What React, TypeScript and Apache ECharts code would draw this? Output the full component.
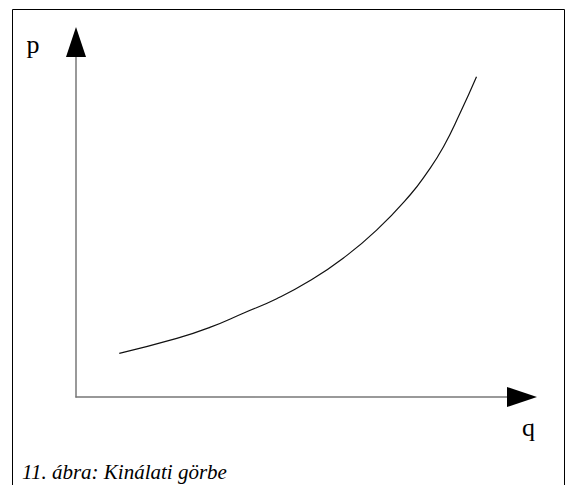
import React, { useEffect, useRef } from "react";
import * as echarts from "echarts";

// Supply curve (q, p), arbitrary units 0..100
const qValues = [9.7, 22.6, 30.0, 37.5, 45.0, 52.5, 59.9, 67.4, 74.9, 78.6, 82.4, 86.1, 89.8];
const pValues = [12.3, 16.5, 19.6, 23.6, 27.7, 32.8, 39.1, 47.0, 56.9, 63.0, 70.5, 79.9, 90.2];
const xName = "q";
const yName = "p";
const caption = "11. ábra: Kinálati görbe";

export default function App() {
  const ref = useRef<HTMLDivElement>(null);
  useEffect(() => {
    if (!ref.current) return;
    const chart = echarts.init(ref.current, undefined, { renderer: "svg" });
    const serif = "Liberation Serif";
    const hiddenParts = {
      axisTick: { show: false },
      axisLabel: { show: false },
      splitLine: { show: false },
    };
    chart.setOption({
      animation: false,
      backgroundColor: "#fff",
      grid: { left: 76, top: 42, right: 46, bottom: 88 },
      xAxis: [
        {
          type: "value", min: 0, max: 100, position: "bottom",
          axisLine: { show: true, lineStyle: { color: "#777", width: 1.5 } },
          ...hiddenParts,
        },
        {
          type: "value", min: 0, max: 100, position: "bottom", offset: 0,
          axisLine: {
            show: true, symbol: ["none", "triangle"], symbolSize: [20, 30],
            lineStyle: { color: "#000", width: 0 },
          },
          ...hiddenParts,
        },
      ],
      yAxis: [
        {
          type: "value", min: 0, max: 100, position: "left",
          axisLine: { show: true, lineStyle: { color: "#777", width: 1.5 } },
          ...hiddenParts,
        },
        {
          type: "value", min: 0, max: 100, position: "left", offset: 0,
          axisLine: {
            show: true, symbol: ["none", "triangle"], symbolSize: [20, 30],
            lineStyle: { color: "#000", width: 0 },
          },
          ...hiddenParts,
        },
      ],
      series: [
        {
          type: "line",
          xAxisIndex: 0,
          yAxisIndex: 0,
          data: qValues.map((q, i) => [q, pValues[i]]),
          smooth: 0.5,
          showSymbol: false,
          lineStyle: { color: "#111", width: 1.2 },
        },
      ],
      graphic: [
        {
          type: "rect",
          shape: { x: 12.5, y: 9.5, width: 552, height: 500 },
          style: { fill: "none", stroke: "#000", lineWidth: 1 },
          silent: true,
        },
        {
          type: "text", x: 26.5, y: 44,
          style: { text: yName, fontFamily: serif, fontSize: 26, fill: "#000", verticalAlign: "middle" },
        },
        {
          type: "text", x: 522, y: 427,
          style: { text: xName, fontFamily: serif, fontSize: 26, fill: "#000", verticalAlign: "middle" },
        },
        {
          type: "text", x: 22, y: 471.5,
          style: {
            text: caption, fontFamily: serif, fontSize: 21, fontStyle: "italic",
            fill: "#000", verticalAlign: "middle",
          },
        },
      ],
    });
    return () => chart.dispose();
  }, []);
  return (
    <div
      ref={ref}
      style={{ position: "absolute", left: 0, top: 0, width: 568, height: 485, background: "#fff" }}
    />
  );
}
